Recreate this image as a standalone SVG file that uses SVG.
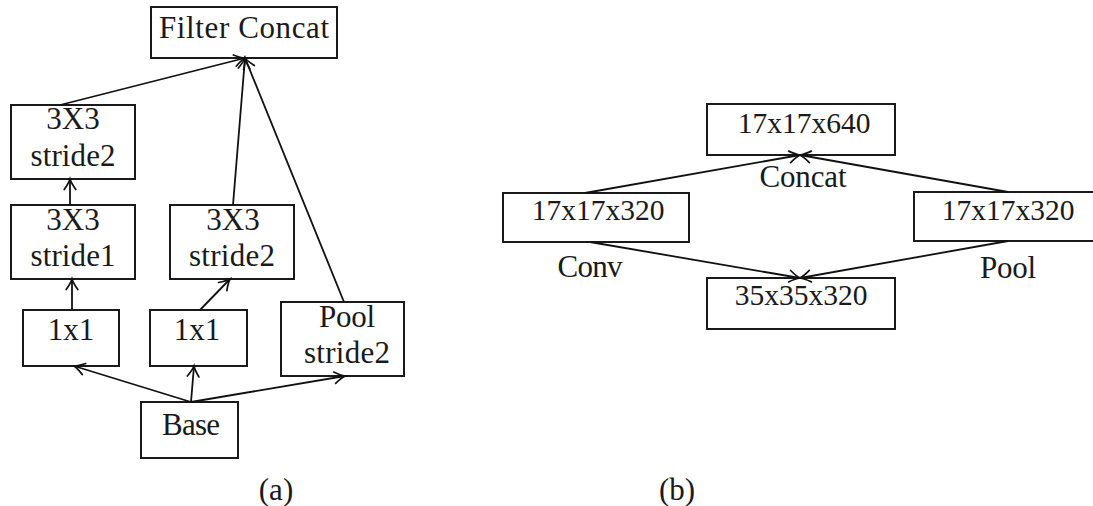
<svg xmlns="http://www.w3.org/2000/svg" width="1093" height="506" viewBox="0 0 1093 506">
  <style>
    .box { fill: #ffffff; stroke: #1a1a1a; stroke-width: 2; }
    .lbl { font-family: 'Liberation Serif', 'DejaVu Serif', serif; font-size: 31px; fill: #1a1a1a; text-anchor: middle; }
    .num { font-size: 29.5px; }
    .edge { fill: none; stroke: #111111; stroke-width: 1.8; marker-end: url(#arr); }
  </style>
  <defs>
    <marker id="arr" markerUnits="userSpaceOnUse" markerWidth="16" markerHeight="14" viewBox="-12 -7 14 14" refX="0" refY="0" orient="auto">
      <path d="M-10.5,-5.8 Q-4,-1.2 0,0 Q-4,1.2 -10.5,5.8" fill="none" stroke="#111111" stroke-width="1.7" stroke-linecap="round"/>
    </marker>
  </defs>

  <!-- (a) branch network -->
  <g id="filter-concat">
    <rect class="box" x="151" y="7" width="186" height="51"/>
    <text class="lbl" x="244" y="38" textLength="170">Filter Concat</text>
  </g>
  <g id="conv3x3-s2-left">
    <rect class="box" x="11" y="105" width="124" height="74"/>
    <text class="lbl" x="73" y="129">3X3</text>
    <text class="lbl" x="73" y="166" textLength="85">stride2</text>
  </g>
  <g id="conv3x3-s1">
    <rect class="box" x="11" y="205" width="124" height="74"/>
    <text class="lbl" x="73" y="230">3X3</text>
    <text class="lbl" x="73" y="266" textLength="85">stride1</text>
  </g>
  <g id="conv3x3-s2-mid">
    <rect class="box" x="170" y="205" width="124" height="74"/>
    <text class="lbl" x="233" y="230">3X3</text>
    <text class="lbl" x="232" y="266" textLength="86">stride2</text>
  </g>
  <g id="conv1x1-left">
    <rect class="box" x="23" y="310" width="96" height="56"/>
    <text class="lbl" x="71" y="340">1x1</text>
  </g>
  <g id="conv1x1-mid">
    <rect class="box" x="150" y="310" width="97" height="56"/>
    <text class="lbl" x="197" y="340">1x1</text>
  </g>
  <g id="pool-s2">
    <rect class="box" x="281" y="302" width="123" height="74"/>
    <text class="lbl" x="347" y="327" textLength="56">Pool</text>
    <text class="lbl" x="347" y="363" textLength="86">stride2</text>
  </g>
  <g id="base">
    <rect class="box" x="141" y="402" width="97" height="56"/>
    <text class="lbl" x="191" y="435" textLength="58">Base</text>
  </g>

  <!-- (b) grid-size reduction -->
  <g id="out-640">
    <rect class="box" x="707" y="104" width="188" height="51"/>
    <text class="lbl num" x="804" y="133">17x17x640</text>
  </g>
  <g id="conv-320">
    <rect class="box" x="503" y="193" width="186" height="49"/>
    <text class="lbl num" x="598" y="220">17x17x320</text>
  </g>
  <g id="pool-320">
    <rect class="box" x="914" y="192" width="188" height="49"/>
    <text class="lbl num" x="1008" y="220">17x17x320</text>
  </g>
  <g id="in-35">
    <rect class="box" x="707" y="278" width="188" height="51"/>
    <text class="lbl num" x="801" y="305">35x35x320</text>
  </g>

  <g id="connectors">
    <!-- (a) -->
    <line class="edge" x1="60" y1="105" x2="245" y2="58"/>
    <line class="edge" x1="233" y1="205" x2="245" y2="58"/>
    <line class="edge" x1="344" y1="302" x2="245" y2="58"/>
    <line class="edge" x1="70" y1="205" x2="70" y2="179"/>
    <line class="edge" x1="72" y1="310" x2="72" y2="279"/>
    <line class="edge" x1="200" y1="310" x2="230" y2="279"/>
    <line class="edge" x1="191" y1="402" x2="74" y2="366"/>
    <line class="edge" x1="191" y1="402" x2="194" y2="366"/>
    <line class="edge" x1="191" y1="402" x2="345" y2="376"/>
    <!-- (b) -->
    <line class="edge" x1="585" y1="193" x2="800" y2="155"/>
    <line class="edge" x1="1008" y1="192" x2="800" y2="155"/>
    <line class="edge" x1="590" y1="242" x2="800" y2="278"/>
    <line class="edge" x1="1008" y1="241" x2="800" y2="278"/>
  </g>

  <g id="edge-labels">
    <text class="lbl" x="803" y="187" textLength="87">Concat</text>
    <text class="lbl" x="590" y="277" textLength="65">Conv</text>
    <text class="lbl" x="1008" y="278" textLength="56">Pool</text>
  </g>

  <g id="captions">
    <text class="lbl" x="276" y="500">(a)</text>
    <text class="lbl" x="677" y="500">(b)</text>
  </g>
</svg>
